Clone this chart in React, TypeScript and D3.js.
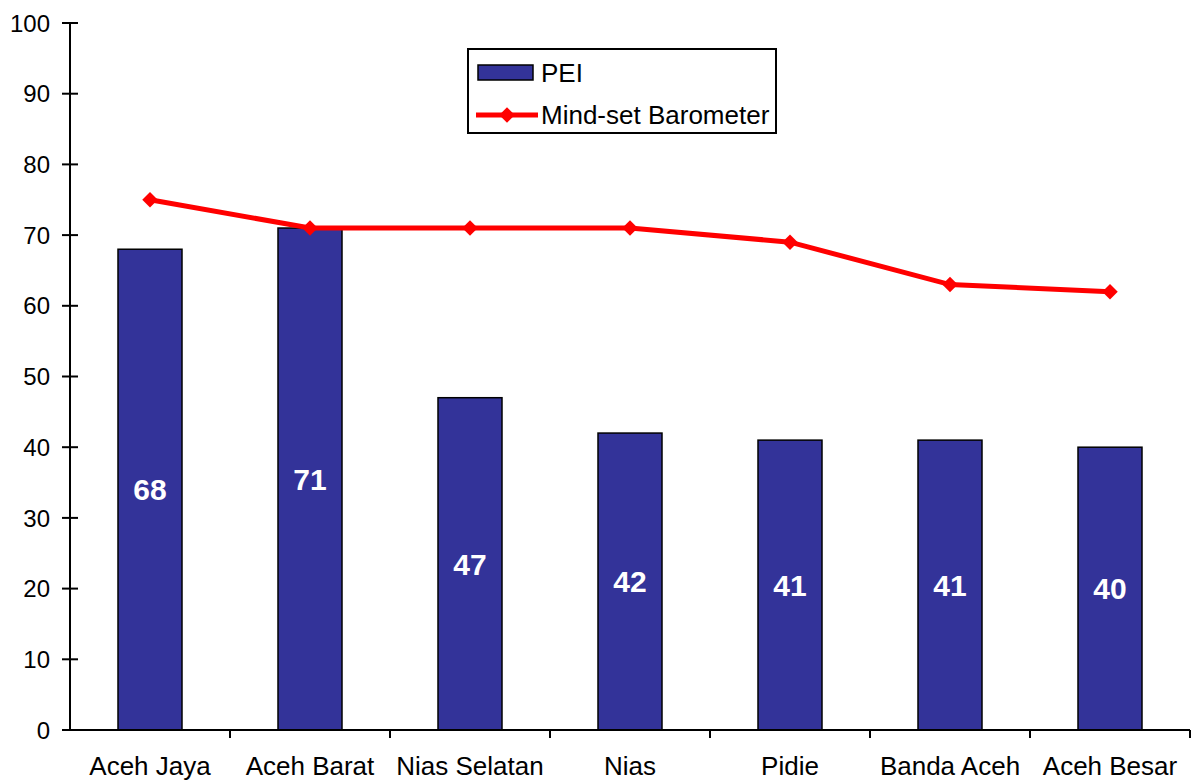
import React from "react";
import { scaleBand, scaleLinear, line, symbol, symbolSquare } from "d3";

const districts = ["Aceh Jaya", "Aceh Barat", "Nias Selatan", "Nias", "Pidie", "Banda Aceh", "Aceh Besar"];
const peiValues = [68, 71, 47, 42, 41, 41, 40];
const barometerValues = [75, 71, 71, 71, 69, 63, 62];
const yTicks = [0, 10, 20, 30, 40, 50, 60, 70, 80, 90, 100];

const W = 1196;
const H = 781;
const margin = { top: 23, left: 70, right: 6, bottom: 51 };
const FONT = "'Liberation Sans', Arial, sans-serif";

const App: React.FC = () => {
	const innerW = 1120;
	const innerH = H - margin.top - margin.bottom;

	const x = scaleBand<string>().domain(districts).range([0, innerW]).paddingInner(0.6).paddingOuter(0.3);
	const y = scaleLinear().domain([0, 100]).range([innerH, 0]);
	const cx = (d: string) => (x(d) || 0) + x.bandwidth() / 2;

	const path = line<number>()
		.x((_, i) => cx(districts[i]))
		.y((v) => y(v))(barometerValues);

	// diamond marker: square turned by 45 degrees
	const marker = symbol().type(symbolSquare).size(120)() || "";
	const step = innerW / districts.length;

	return (
		<div style={{ position: "absolute", left: 0, top: 0 }}>
			<svg width={W} height={H} style={{ display: "block", fontFamily: FONT }}>
				<rect width={W} height={H} fill="#fff" />
				<g transform={`translate(${margin.left}, ${margin.top})`}>
					{peiValues.map((v, i) => (
						<g key={i}>
							<rect
								x={x(districts[i]) || 0}
								y={y(v)}
								width={x.bandwidth()}
								height={innerH - y(v)}
								fill="#333399"
								stroke="#000"
								strokeWidth={1.5}
							/>
							<text
								x={cx(districts[i])}
								y={(y(v) + innerH) / 2}
								dy="0.36em"
								textAnchor="middle"
								fill="#fff"
								fontWeight="bold"
								fontSize={30}>
								{v}
							</text>
						</g>
					))}

					{/* y axis */}
					<line x1={0} x2={0} y1={0} y2={innerH} stroke="#000" strokeWidth={2} />
					{yTicks.map((t) => (
						<g key={t} transform={`translate(0, ${y(t)})`}>
							<line x1={-8} x2={8} stroke="#000" strokeWidth={2} />
							<text x={-20} dy="0.36em" textAnchor="end" fontSize={24} fill="#000">
								{t}
							</text>
						</g>
					))}

					{/* x axis */}
					<line x1={0} x2={innerW} y1={innerH} y2={innerH} stroke="#000" strokeWidth={2} />
					{districts.map((d, i) => (
						<g key={d}>
							<line x1={step * (i + 1)} x2={step * (i + 1)} y1={innerH} y2={innerH + 8} stroke="#000" strokeWidth={2} />
							<text x={cx(d)} y={innerH + 45} textAnchor="middle" fontSize={26} fill="#000">
								{d}
							</text>
						</g>
					))}

					<path d={path || ""} fill="none" stroke="#ff0000" strokeWidth={5} />
					{barometerValues.map((v, i) => (
						<path key={i} d={marker} transform={`translate(${cx(districts[i])}, ${y(v)}) rotate(45)`} fill="#ff0000" />
					))}
				</g>

				{/* legend */}
				<g transform="translate(468, 49)">
					<rect width={308} height={84} fill="#fff" stroke="#000" strokeWidth={2} />
					<rect x={10} y={16} width={55} height={15} fill="#333399" stroke="#000" strokeWidth={1.5} />
					<text x={73} y={24} dy="0.36em" fontSize={26}>PEI</text>
					<line x1={8} x2={70} y1={66} y2={66} stroke="#ff0000" strokeWidth={5} />
					<path d={marker} transform="translate(39, 66) rotate(45)" fill="#ff0000" />
					<text x={73} y={66} dy="0.36em" fontSize={26}>Mind-set Barometer</text>
				</g>
			</svg>
		</div>
	);
};

export default App;
